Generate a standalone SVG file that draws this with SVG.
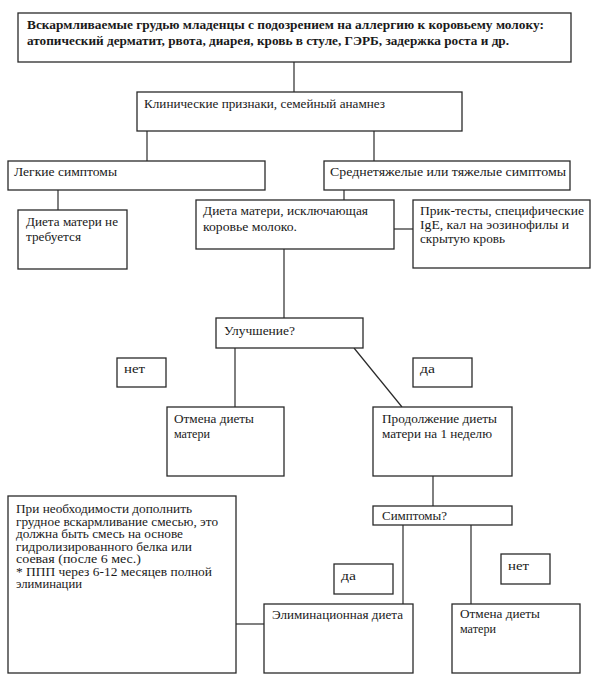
<svg xmlns="http://www.w3.org/2000/svg" width="597" height="690" viewBox="0 0 597 690">
<style>
.b{fill:#fff;stroke:#2a2a2a;stroke-width:1.3}
.t{font-family:"Liberation Serif","Times New Roman","DejaVu Serif",serif;font-size:12.5px;fill:#1a1a1a}
.s{font-size:12px}
.tb{font-family:"Liberation Serif","Times New Roman","DejaVu Serif",serif;font-size:13px;font-weight:bold;fill:#1a1a1a}
.c{stroke:#2a2a2a;stroke-width:1.2;fill:none}
</style>
<rect width="597" height="690" fill="#fff"/>
<g id="connectors">
<line class="c" x1="294" y1="62" x2="294" y2="92"/>
<line class="c" x1="147" y1="131" x2="147" y2="161"/>
<line class="c" x1="374" y1="131" x2="374" y2="161"/>
<line class="c" x1="58" y1="190" x2="58" y2="210"/>
<line class="c" x1="344" y1="190" x2="344" y2="200"/>
<line class="c" x1="394" y1="229" x2="413" y2="229"/>
<line class="c" x1="284" y1="249" x2="284" y2="318"/>
<line class="c" x1="235" y1="348" x2="235" y2="407"/>
<line class="c" x1="354" y1="348" x2="402" y2="407"/>
<line class="c" x1="433" y1="476" x2="433" y2="506"/>
<line class="c" x1="403" y1="525" x2="403" y2="604"/>
<line class="c" x1="471" y1="525" x2="471" y2="604"/>
<line class="c" x1="236" y1="624" x2="264" y2="624"/>
</g>
<g id="n-top">
<rect class="b" x="18" y="13" width="553" height="49"/>
<text class="tb" x="27" y="29" textLength="517" lengthAdjust="spacingAndGlyphs">Вскармливаемые грудью младенцы с подозрением на аллергию к коровьему молоку:</text>
<text class="tb" x="27" y="45" textLength="482" lengthAdjust="spacingAndGlyphs">атопический дерматит, рвота, диарея, кровь в стуле, ГЭРБ, задержка роста и др.</text>
</g>
<g id="n-clinic">
<rect class="b" x="137" y="92" width="325" height="39"/>
<text class="t" x="144" y="108" textLength="241" lengthAdjust="spacingAndGlyphs">Клинические признаки, семейный анамнез</text>
</g>
<g id="n-mild">
<rect class="b" x="8" y="161" width="257" height="29"/>
<text class="t" x="14" y="176" textLength="103" lengthAdjust="spacingAndGlyphs">Легкие симптомы</text>
</g>
<g id="n-severe">
<rect class="b" x="324" y="161" width="246" height="29"/>
<text class="t" x="330" y="176" textLength="236" lengthAdjust="spacingAndGlyphs">Среднетяжелые или тяжелые симптомы</text>
</g>
<g id="n-nodiet">
<rect class="b" x="18" y="210" width="109" height="59"/>
<text class="t" x="26" y="226" textLength="92" lengthAdjust="spacingAndGlyphs">Диета матери не</text>
<text class="t" x="26" y="241" textLength="55" lengthAdjust="spacingAndGlyphs">требуется</text>
</g>
<g id="n-diet">
<rect class="b" x="196" y="200" width="198" height="49"/>
<text class="t" x="203" y="215" textLength="165" lengthAdjust="spacingAndGlyphs">Диета матери, исключающая</text>
<text class="t" x="203" y="231" textLength="94" lengthAdjust="spacingAndGlyphs">коровье молоко.</text>
</g>
<g id="n-tests">
<rect class="b" x="413" y="200" width="177" height="68"/>
<text class="t" x="420" y="215" textLength="164" lengthAdjust="spacingAndGlyphs">Прик-тесты, специфические</text>
<text class="t" x="420" y="229" textLength="149" lengthAdjust="spacingAndGlyphs">IgE, кал на эозинофилы и</text>
<text class="t" x="420" y="243" textLength="85" lengthAdjust="spacingAndGlyphs">скрытую кровь</text>
</g>
<g id="n-improve">
<rect class="b" x="216" y="318" width="147" height="30"/>
<text class="t" x="224" y="335" textLength="71" lengthAdjust="spacingAndGlyphs">Улучшение?</text>
</g>
<g id="n-no1">
<rect class="b" x="117" y="358" width="49" height="29"/>
<text class="t" x="124" y="373" textLength="21" lengthAdjust="spacingAndGlyphs">нет</text>
</g>
<g id="n-yes1">
<rect class="b" x="413" y="358" width="59" height="29"/>
<text class="t" x="420" y="373" textLength="15" lengthAdjust="spacingAndGlyphs">да</text>
</g>
<g id="n-cancel1">
<rect class="b" x="167" y="407" width="117" height="69"/>
<text class="t" x="174" y="423" textLength="80" lengthAdjust="spacingAndGlyphs">Отмена диеты</text>
<text class="t" x="174" y="438" textLength="36" lengthAdjust="spacingAndGlyphs">матери</text>
</g>
<g id="n-continue">
<rect class="b" x="373" y="407" width="139" height="69"/>
<text class="t" x="382" y="423" textLength="115" lengthAdjust="spacingAndGlyphs">Продолжение диеты</text>
<text class="t" x="382" y="438" textLength="110" lengthAdjust="spacingAndGlyphs">матери на 1 неделю</text>
</g>
<g id="n-symptoms">
<rect class="b" x="373" y="506" width="139" height="19"/>
<text class="t" x="382" y="520" textLength="65" lengthAdjust="spacingAndGlyphs">Симптомы?</text>
</g>
<g id="n-yes2">
<rect class="b" x="334" y="564" width="59" height="30"/>
<text class="t" x="341" y="580" textLength="15" lengthAdjust="spacingAndGlyphs">да</text>
</g>
<g id="n-no2">
<rect class="b" x="501" y="554" width="49" height="30"/>
<text class="t" x="508" y="570" textLength="21" lengthAdjust="spacingAndGlyphs">нет</text>
</g>
<g id="n-formula">
<rect class="b" x="8" y="496" width="228" height="177"/>
<text class="t s" x="16" y="513" textLength="176" lengthAdjust="spacingAndGlyphs">При необходимости дополнить</text>
<text class="t s" x="16" y="525.5" textLength="202" lengthAdjust="spacingAndGlyphs">грудное вскармливание смесью, это</text>
<text class="t s" x="16" y="538" textLength="167" lengthAdjust="spacingAndGlyphs">должна быть смесь на основе</text>
<text class="t s" x="16" y="550.5" textLength="176" lengthAdjust="spacingAndGlyphs">гидролизированного белка или</text>
<text class="t s" x="16" y="563" textLength="125" lengthAdjust="spacingAndGlyphs">соевая (после 6 мес.)</text>
<text class="t s" x="16" y="575.5" textLength="196" lengthAdjust="spacingAndGlyphs">* ППП через 6-12 месяцев полной</text>
<text class="t s" x="16" y="588" textLength="66" lengthAdjust="spacingAndGlyphs">элиминации</text>
</g>
<g id="n-elim">
<rect class="b" x="264" y="604" width="149" height="69"/>
<text class="t" x="272" y="619" textLength="131" lengthAdjust="spacingAndGlyphs">Элиминационная диета</text>
</g>
<g id="n-cancel2">
<rect class="b" x="452" y="604" width="128" height="69"/>
<text class="t" x="460" y="618" textLength="80" lengthAdjust="spacingAndGlyphs">Отмена диеты</text>
<text class="t" x="460" y="633" textLength="36" lengthAdjust="spacingAndGlyphs">матери</text>
</g>
</svg>
